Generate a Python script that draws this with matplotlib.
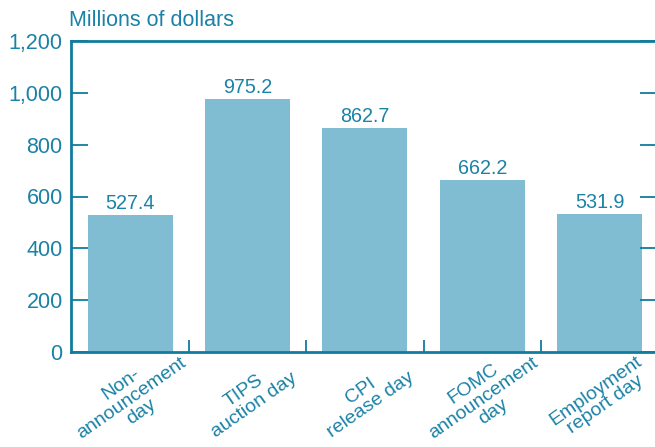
import matplotlib
matplotlib.use("Agg")
import matplotlib.pyplot as plt
from matplotlib.transforms import blended_transform_factory

categories = ["Non-\nannouncement\nday", "TIPS\nauction day", "CPI\nrelease day",
              "FOMC\nannouncement\nday", "Employment\nreport day"]
values = [527.4, 975.2, 862.7, 662.2, 531.9]
value_labels = ["527.4", "975.2", "862.7", "662.2", "531.9"]
yticks = [0, 200, 400, 600, 800, 1000, 1200]
ytick_labels = ["0", "200", "400", "600", "800", "1,000", "1,200"]

plt.rcParams['font.family'] = ['Liberation Sans', 'DejaVu Sans']
txt = '#1a82a6'
axc = '#127c9e'
barc = '#81bdd2'

fig = plt.figure(figsize=(6.55, 4.47), dpi=100)
W, H = 655, 447
ax = fig.add_axes([71/W, 1-352/H, (657-71)/W, (352-41)/H])

x = list(range(len(values)))
ax.bar(x, values, width=0.725, color=barc, zorder=1)
ax.set_xlim(-0.505, 4.49)
ax.set_ylim(0, 1200)

for xi, v, lab in zip(x, values, value_labels):
    ax.text(xi, v + 10, lab, ha='center', va='bottom', fontsize=14.2, color=txt)

ax.set_yticks(yticks)
ax.set_yticklabels(ytick_labels, fontsize=15.5, color=txt)
ax.tick_params(axis='y', direction='in', length=12, width=1.3, color=axc,
               left=True, right=True, labelleft=True, labelright=False, pad=6)
ax.set_xticks([0.5, 1.5, 2.5, 3.5])
ax.set_xticklabels([])
ax.tick_params(axis='x', direction='in', length=9, width=1.3, color=axc)

for s in ['left', 'bottom', 'top']:
    ax.spines[s].set_color(axc)
    ax.spines[s].set_linewidth(2)
ax.spines['right'].set_visible(False)

trans = blended_transform_factory(ax.transData, ax.transAxes)
for xi, c in zip(x, categories):
    ax.text(xi + 0.01, -0.148, c, transform=trans, rotation=35, ha='center', va='center',
            rotation_mode='anchor', multialignment='center', fontsize=14, color=txt,
            linespacing=1.02)

fig.text(69/W, 1-20/H, "Millions of dollars", ha='left', va='center', fontsize=15.5, color=txt)

fig.savefig("out.png", dpi=100)
